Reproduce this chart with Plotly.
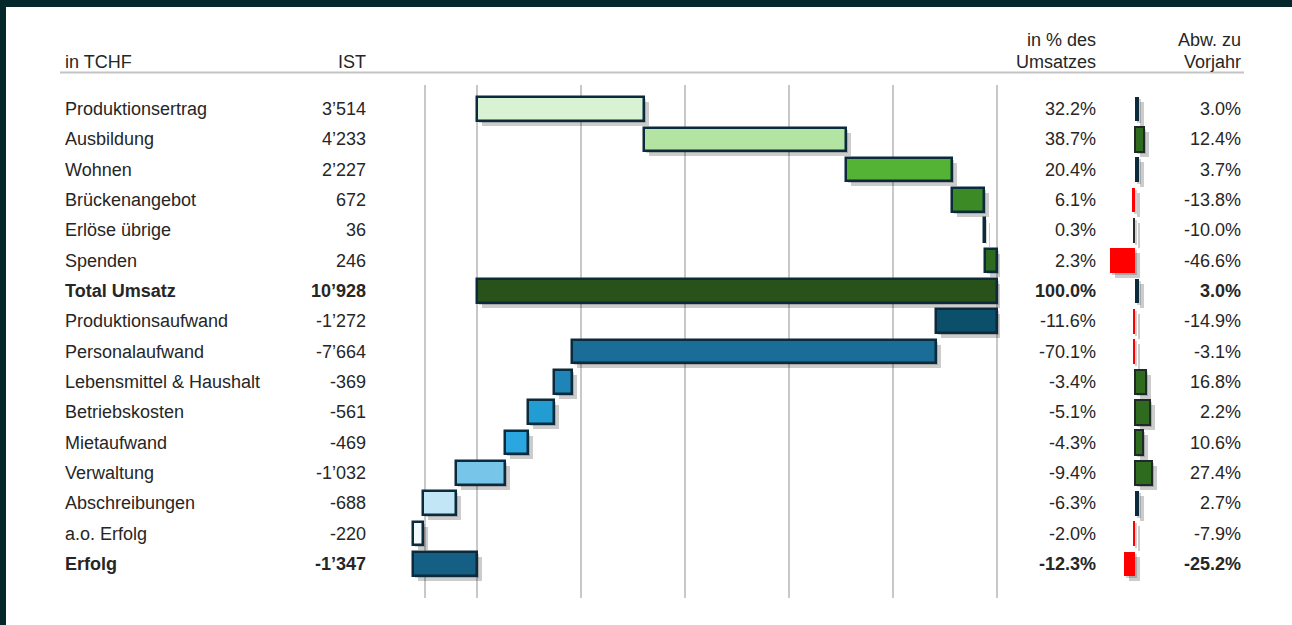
import plotly.graph_objects as go

W, H = 1292, 625

# Daten (in TCHF)
kategorien = [
    "Produktionsertrag", "Ausbildung", "Wohnen", "Brückenangebot", "Erlöse übrige", "Spenden",
    "Total Umsatz", "Produktionsaufwand", "Personalaufwand", "Lebensmittel & Haushalt",
    "Betriebskosten", "Mietaufwand", "Verwaltung", "Abschreibungen", "a.o. Erfolg", "Erfolg",
]
ist = [3514, 4233, 2227, 672, 36, 246, 10928, -1272, -7664, -369, -561, -469, -1032, -688, -220, -1347]
ist_summe = [False] * 6 + [True] + [False] * 8 + [True]
abw_vorjahr = [3.0, 12.4, 3.7, -13.8, -10.0, -46.6, 3.0, -14.9, -3.1, 16.8, 2.2, 10.6, 27.4, 2.7, -7.9, -25.2]
# Balkenlänge der Abweichungsgrafik
abw_balken = [3.5, 9, 3.5, -3, -2.5, -25, 3.5, -2.5, -2.5, 10.5, 14.5, 7.5, 16.5, 3.5, -2.5, -11.5]

# Farben
bar_farben = [
    "#d8f2d3", "#b3e4a2", "#54b234", "#3c8a25", "#2f6b1e", "#2f6b1e", "#285219",
    "#0b4f6b", "#1a6d96", "#1f85b8", "#219dd4", "#2aa7e0", "#78c5ea", "#c2e6f6", "#f2f9fd", "#155f85",
]
abw_farben = [
    "#0b2a3b", "#2e6b1f", "#0b2a3b", "#ff0000", "#2a2a2a", "#ff0000", "#0b2a3b",
    "#ff0000", "#ff0000", "#2e6b1f", "#2e6b1f", "#2e6b1f", "#2e6b1f", "#0b2a3b", "#ff0000", "#ff0000",
]
NAVY = "#0b2a3b"
TXT = "#262626"
FONT = "Liberation Sans, Arial, sans-serif"
FS = 18

umsatz = ist[kategorien.index("Total Umsatz")]
pct = [v / umsatz * 100 for v in ist]

# Wasserfall: Basis und Länge
basis, laenge = [], []
laufend = 0.0
for p, summe in zip(pct, ist_summe):
    if summe:
        basis.append(0.0)
        laenge.append(p)
        laufend = p
    else:
        basis.append(laufend)
        laenge.append(p)
        laufend += p

zeilen = list(range(len(kategorien)))

# Pixel -> Achsen
ROW0, ROWH = 109, 30.33
X0, PXP = 477, 5.2  # 0% bei x=477, 5.2 px je %

fig = go.Figure()

# Schatten
for dx, dy, a in [(2, 2, 0.18), (5, 5, 0.2)]:
    fig.add_trace(go.Bar(
        y=[r + dy / ROWH for r in zeilen], x=laenge, base=[b + dx / PXP for b in basis],
        orientation="h", width=0.78, marker=dict(color=f"rgba(0,0,0,{a})", line=dict(width=0)),
        hoverinfo="skip", showlegend=False, xaxis="x", yaxis="y",
    ))
    fig.add_trace(go.Bar(
        y=[r + dy / ROWH for r in zeilen], x=abw_balken, base=[dx] * len(zeilen),
        orientation="h", width=0.82, marker=dict(color=f"rgba(0,0,0,{a})", line=dict(width=0)),
        hoverinfo="skip", showlegend=False, xaxis="x2", yaxis="y",
    ))

# Wasserfall
fig.add_trace(go.Bar(
    y=zeilen, x=laenge, base=basis, orientation="h", width=0.78,
    marker=dict(color=bar_farben, line=dict(color=NAVY, width=2.5)),
    showlegend=False, xaxis="x", yaxis="y",
))

# Abweichung zum Vorjahr
fig.add_trace(go.Bar(
    y=zeilen, x=abw_balken, orientation="h", width=0.82,
    marker=dict(
        color=abw_farben,
        line=dict(color="#1e2a2a", width=[2 if c == "#2e6b1f" else 0 for c in abw_farben]),
    ),
    showlegend=False, xaxis="x2", yaxis="y",
))

# Texte
ann = []
for r, (name, v, p, a, s) in enumerate(zip(kategorien, ist, pct, abw_vorjahr, ist_summe)):
    def t(x):
        return f"<b>{x}</b>" if s else x
    wert = f"{v:,}".replace(",", "’")
    for x, txt, anchor in [
        (63, name, "left"),
        (368, wert, "right"),
        (1098, f"{p:.1f}%", "right"),
        (1243, f"{a:.1f}%", "right"),
    ]:
        ann.append(dict(
            x=x / W, xref="paper", y=r, yref="y", text=t(txt), showarrow=False,
            xanchor=anchor, yanchor="middle", font=dict(family=FONT, size=FS, color=TXT),
        ))

for x, y, txt, anchor in [
    (63, 62, "in TCHF", "left"),
    (368, 62, "IST", "right"),
    (1098, 40, "in % des", "right"),
    (1098, 62, "Umsatzes", "right"),
    (1243, 40, "Abw. zu", "right"),
    (1243, 62, "Vorjahr", "right"),
]:
    ann.append(dict(
        x=x / W, xref="paper", y=1 - y / H, yref="paper", text=txt, showarrow=False,
        xanchor=anchor, yanchor="middle", font=dict(family=FONT, size=FS, color=TXT),
    ))

fig.update_layout(
    width=W, height=H,
    margin=dict(l=0, r=0, t=0, b=0),
    paper_bgcolor="#03272b",
    plot_bgcolor="rgba(0,0,0,0)",
    barmode="overlay",
    bargap=0,
    annotations=ann,
    shapes=[
        dict(type="rect", xref="paper", yref="paper", x0=6 / W, x1=1, y0=0, y1=1 - 7 / H,
             fillcolor="white", line=dict(width=0), layer="below"),
        dict(type="line", xref="paper", yref="paper", x0=60 / W, x1=1244 / W,
             y0=1 - 72.5 / H, y1=1 - 72.5 / H, line=dict(color="#c4c4c4", width=2)),
    ],
    xaxis=dict(
        domain=[372 / W, 1000 / W],
        range=[(372 - X0) / PXP, (1000 - X0) / PXP],
        tickvals=[-20, -10, 0, 20, 40, 60, 80, 100],
        showticklabels=False, ticks="", showgrid=True, gridcolor="#c8c8c8", gridwidth=2,
        zeroline=False, showline=False, anchor="y",
    ),
    xaxis2=dict(
        domain=[1101 / W, 1171 / W], range=[-34, 36],
        visible=False, showgrid=False, zeroline=False, anchor="y",
    ),
    yaxis=dict(
        domain=[1 - 598 / H, 1 - 85 / H],
        range=[(598 - ROW0) / ROWH, (85 - ROW0) / ROWH],
        visible=False, showgrid=False, zeroline=False,
    ),
)

fig.write_html(
    "out.html",
    config={"displayModeBar": False},
    post_script="document.body.style.margin='0';document.body.style.overflow='hidden';",
)
